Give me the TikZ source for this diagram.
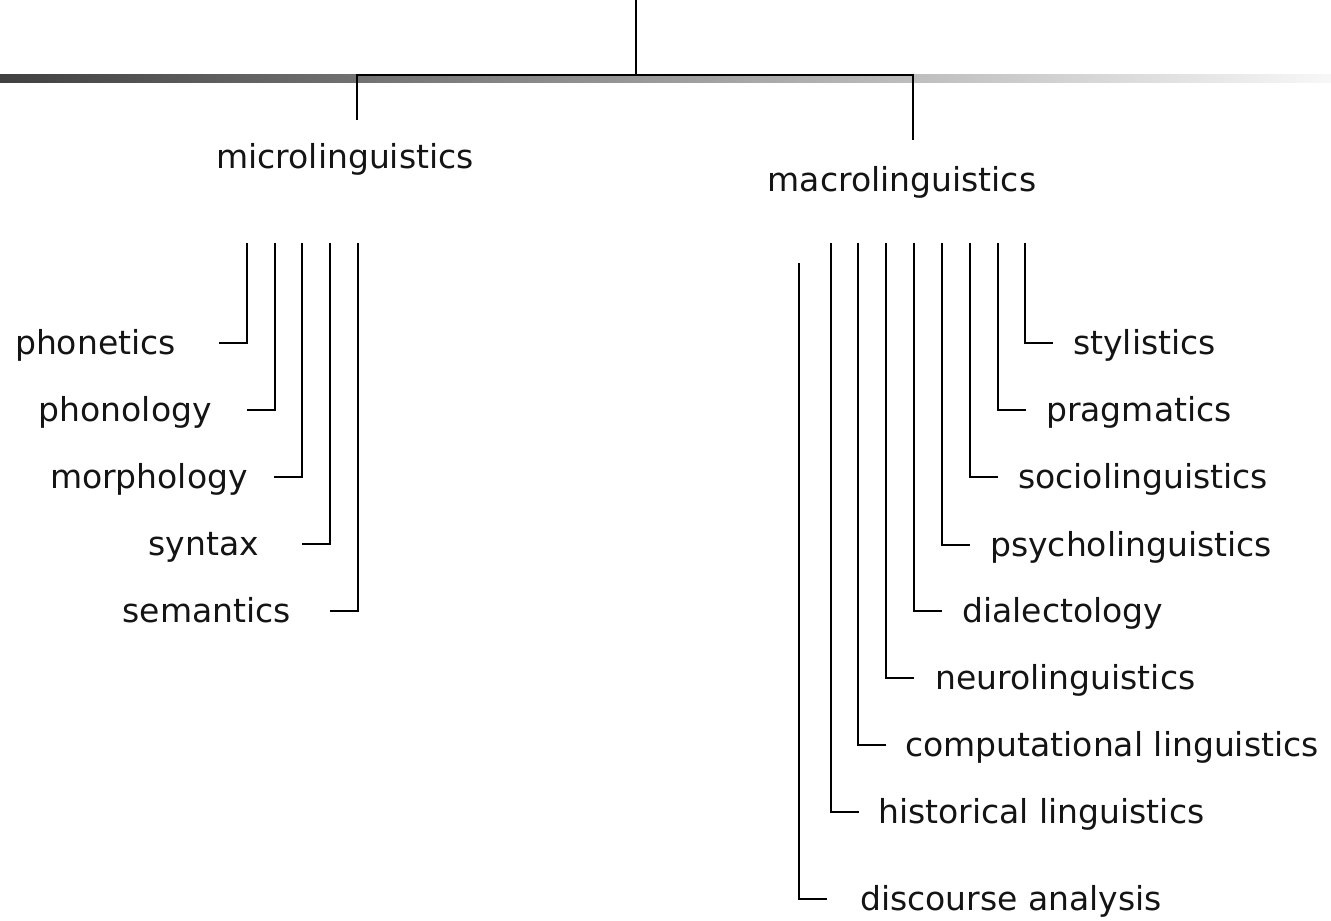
\documentclass[tikz,border=0pt]{standalone}
\usepackage{fontspec}
\setmainfont{DejaVu Sans}
\begin{document}
\begin{tikzpicture}[x=1pt,y=-1pt,
  link/.style={line width=1.6pt, black},
  lbl/.style={inner sep=0pt, yshift=-9pt, font=\fontsize{33}{40}\selectfont, text=black!92}]
\useasboundingbox (0,0) rectangle (1331,921);

% grey shaded rule across the top
\shade[left color=black!75, right color=black!3] (0,74) rectangle (1331,82);

% root and the two main branches
\coordinate (root) at (636,0);
\coordinate (split) at (636,75);
\coordinate (microtop) at (357,75);
\coordinate (microend) at (357,120);
\coordinate (macrotop) at (913,75);
\coordinate (macroend) at (913,140);
\draw[link] (root) -- (split);
\draw[link] (microend) -- (microtop) -- (macrotop) -- (macroend);

\node[lbl, anchor=mid] (micro) at (345,157) {microlinguistics};
\node[lbl, anchor=mid] (macro) at (902,180) {macrolinguistics};

% microlinguistics subfields: label, stem x, row y, label edge
\foreach \name/\txt/\sx/\ry/\lx in {
    phonet/phonetics/247/343/176,
    phonol/phonology/275/410/212,
    morph/morphology/302/477/248,
    synt/syntax/330/544/259,
    sem/semantics/358/611/291} {
  \node[lbl, anchor=mid east] (\name) at (\lx,\ry) {\txt};
  \coordinate (\name-top) at (\sx,243);
  \coordinate (\name-end) at (\sx-28,\ry);
  \draw[link] (\name-top) |- (\name-end);
}

% macrolinguistics subfields
\foreach \name/\txt/\sx/\sy/\ry/\lx in {
    styl/stylistics/1025/243/343/1073,
    prag/pragmatics/998/243/410/1046,
    socio/sociolinguistics/970/243/477/1018,
    psych/psycholinguistics/942/243/545/990,
    dial/dialectology/914/243/611/962,
    neuro/neurolinguistics/886/243/678/935,
    comp/computational linguistics/858/243/745/905,
    hist/historical linguistics/831/243/812/878,
    disc/discourse analysis/799/263/899/860} {
  \node[lbl, anchor=mid west] (\name) at (\lx,\ry) {\txt};
  \coordinate (\name-top) at (\sx,\sy);
  \coordinate (\name-end) at (\sx+28,\ry);
  \draw[link] (\name-top) |- (\name-end);
}
\end{tikzpicture}
\end{document}
